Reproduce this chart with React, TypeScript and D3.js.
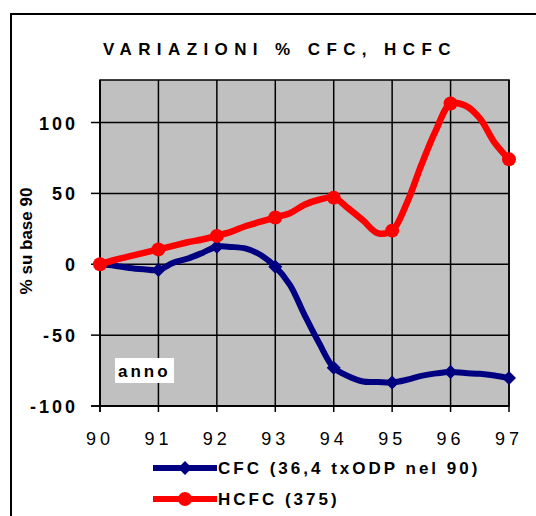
import React from 'react';
import * as d3 from 'd3';

// Quarterly points (year, two digits); markers at whole years
const quarters = [
  90, 90.25, 90.5, 90.75, 91, 91.25, 91.5, 91.75, 92, 92.25, 92.5, 92.75, 93,
  93.25, 93.5, 93.75, 94, 94.25, 94.5, 94.75, 95, 95.25, 95.5, 95.75, 96,
  96.25, 96.5, 96.75, 97,
];
const cfc = [
  0, -1, -2.6, -3.5, -4, 1, 4, 8, 12.4, 12.2, 11, 6.5, -1.7, -14.6, -35.7,
  -55.6, -73, -79, -82.7, -83, -83.4, -81.5, -78.7, -77, -76, -76.8, -77.3,
  -78.5, -80.3,
];
const hcfc = [
  0, 3, 5.5, 8, 10.5, 13, 15.5, 17.5, 20, 23, 27, 30, 33, 36, 42, 45.5, 47,
  39.4, 31, 22, 23.7, 43, 70, 94.6, 113.4, 112, 103, 86, 74,
];
const yearTicks = [90, 91, 92, 93, 94, 95, 96, 97];
const valueTicks = [-100, -50, 0, 50, 100];
const titleText = 'VARIAZIONI % CFC, HCFC';
const yTitle = '% su base 90';
const xTitle = 'anno';
const seriesNames = ['CFC (36,4 txODP nel 90)', 'HCFC (375)'];
const seriesColors = ['#000080', '#FF0000'];

const FONT = '"Liberation Sans", Arial, Helvetica, sans-serif';

export default function App() {
  const W = 536;
  const H = 516;
  const x = d3.scaleLinear().domain([90, 97]).range([100, 509]);
  const y = d3.scaleLinear().domain([-100, 130]).range([406, 80]);

  const line = d3
    .line<number>()
    .x((_, i) => x(quarters[i]))
    .curve(d3.curveCatmullRom.alpha(0.5));

  const cfcPath = line.y((v) => y(v))(cfc) || '';
  const hcfcPath = line.y((v) => y(v))(hcfc) || '';

  const markerIdx = quarters
    .map((q, i) => (Number.isInteger(q) ? i : -1))
    .filter((i) => i >= 0);

  const diamond = (cx: number, cy: number, r: number) =>
    `M${cx},${cy - r}L${cx + r},${cy}L${cx},${cy + r}L${cx - r},${cy}Z`;

  const [x0, x1] = x.range();
  const [yb, yt] = y.range();

  return (
    <svg
      width={W}
      height={H}
      style={{ position: 'absolute', left: 0, top: 0, background: '#fff' }}
      fontFamily={FONT}
    >
      {/* outer frame */}
      <path d={`M11,${H}L11,14L${W},14`} fill="none" stroke="#000" strokeWidth={2} />

      {/* title */}
      <text x={103} y={54.5} fontSize={17} fontWeight="bold" letterSpacing={6.4} fill="#000">
        {titleText}
      </text>

      {/* plot area */}
      <rect x={x0} y={yt} width={x1 - x0} height={yb - yt} fill="#C0C0C0" stroke="#000" strokeWidth={1.5} />

      {/* grid */}
      {yearTicks.map((t) => (
        <line key={'gx' + t} x1={x(t)} x2={x(t)} y1={yt} y2={yb} stroke="#000" strokeWidth={1.5} />
      ))}
      {valueTicks.map((v) => (
        <line key={'gy' + v} x1={x0} x2={x1} y1={y(v)} y2={y(v)} stroke="#000" strokeWidth={1.5} />
      ))}

      {/* axes */}
      <line x1={x0} x2={x0} y1={yt} y2={yb + 6} stroke="#000" strokeWidth={1.5} />
      <line x1={x0 - 9} x2={x1} y1={yb} y2={yb} stroke="#000" strokeWidth={1.5} />
      {valueTicks.map((v) => (
        <line key={'ty' + v} x1={x0 - 9} x2={x0} y1={y(v)} y2={y(v)} stroke="#000" strokeWidth={1.5} />
      ))}
      {yearTicks.map((t) => (
        <line key={'tx' + t} x1={x(t)} x2={x(t)} y1={yb} y2={yb + 6} stroke="#000" strokeWidth={1.5} />
      ))}

      {/* tick labels */}
      {valueTicks.map((v) => (
        <text
          key={'ly' + v}
          x={78}
          y={y(v) + 7}
          textAnchor="end"
          fontSize={18}
          fontWeight="bold"
          letterSpacing={3}
          fill="#000"
        >
          {String(v)}
        </text>
      ))}
      {yearTicks.map((t) => (
        <text
          key={'lx' + t}
          x={x(t)}
          y={445}
          textAnchor="middle"
          fontSize={18}
          letterSpacing={4}
          fill="#000"
        >
          {String(t)}
        </text>
      ))}

      {/* y title */}
      <text
        transform="translate(32,241) rotate(-90)"
        textAnchor="middle"
        fontSize={17}
        fontWeight="bold"
        fill="#000"
      >
        {yTitle}
      </text>

      {/* x title box */}
      <rect x={115} y={358} width={59} height={25} fill="#fff" />
      <text x={118} y={377} fontSize={17} fontWeight="bold" letterSpacing={3} fill="#000">
        {xTitle}
      </text>

      {/* series */}
      <path d={cfcPath} fill="none" stroke={seriesColors[0]} strokeWidth={6} strokeLinejoin="round" strokeLinecap="round" />
      {markerIdx.map((i) => (
        <path key={'mc' + i} d={diamond(x(quarters[i]), y(cfc[i]), 7)} fill={seriesColors[0]} />
      ))}
      <path d={hcfcPath} fill="none" stroke={seriesColors[1]} strokeWidth={6.5} strokeLinejoin="round" strokeLinecap="round" />
      {markerIdx.map((i) => (
        <circle key={'mh' + i} cx={x(quarters[i])} cy={y(hcfc[i])} r={7} fill={seriesColors[1]} />
      ))}

      {/* legend */}
      {seriesNames.map((name, k) => {
        const ly = 468 + k * 31;
        return (
          <g key={'leg' + k}>
            <line x1={153} x2={217} y1={ly} y2={ly} stroke={seriesColors[k]} strokeWidth={6} />
            {k === 0 ? (
              <path d={diamond(185, ly, 7)} fill={seriesColors[k]} />
            ) : (
              <circle cx={185} cy={ly} r={7} fill={seriesColors[k]} />
            )}
            <text x={218} y={ly + 6} fontSize={17} fontWeight="bold" letterSpacing={3} fill="#000">
              {name}
            </text>
          </g>
        );
      })}
    </svg>
  );
}
